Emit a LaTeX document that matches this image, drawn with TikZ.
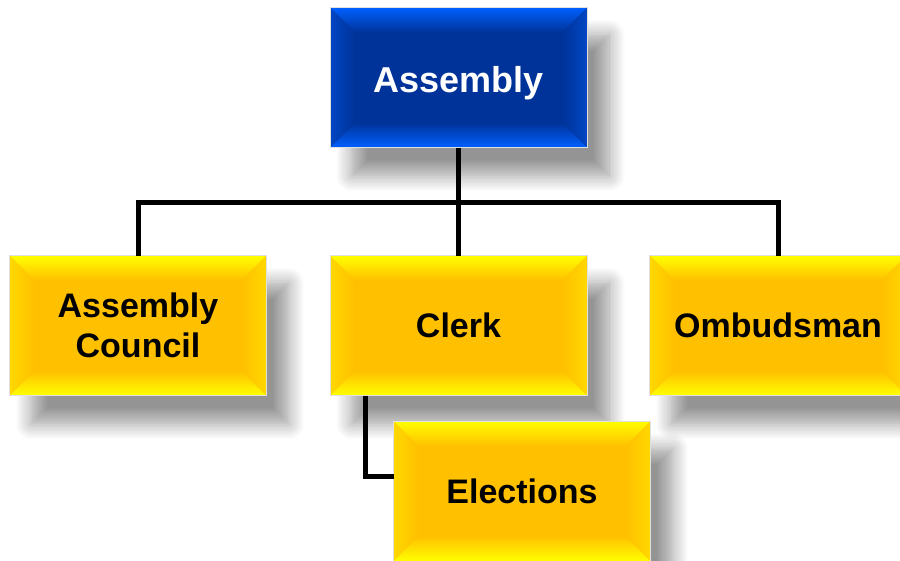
\documentclass[tikz,border=0pt]{standalone}
\usepackage{fontspec}
\setmainfont{Liberation Sans}
\usetikzlibrary{shadows.blur}
\definecolor{yface}{HTML}{FFC000}
\definecolor{ytop}{HTML}{FFFF00}
\definecolor{yside}{HTML}{FFD800}
\definecolor{bface}{HTML}{003399}
\definecolor{btop}{HTML}{0060FF}
\definecolor{bside}{HTML}{0046C4}
\tikzset{
  bevelbox/.style n args={4}{
    rectangle, minimum width=257pt, minimum height=140pt, inner sep=0pt, outer sep=0pt,
    align=center, fill=#1, text=#4, font=\bfseries\fontsize{34}{40}\selectfont,
    draw=black!12, line width=0.6pt,
    blur shadow={shadow xshift=22pt, shadow yshift=-28pt, shadow blur radius=16pt, shadow blur steps=12, shadow opacity=42},
    path picture={
      \coordinate (pnw) at (path picture bounding box.north west);
      \coordinate (pne) at (path picture bounding box.north east);
      \coordinate (psw) at (path picture bounding box.south west);
      \coordinate (pse) at (path picture bounding box.south east);
      \shade[top color=#2, bottom color=#1] (pnw) -- (pne) -- ([shift={(-25pt,-25pt)}]pne) -- ([shift={(25pt,-25pt)}]pnw) -- cycle;
      \shade[top color=#1, bottom color=#2] (psw) -- (pse) -- ([shift={(-25pt,25pt)}]pse) -- ([shift={(25pt,25pt)}]psw) -- cycle;
      \shade[left color=#3, right color=#1] (pnw) -- (psw) -- ([shift={(25pt,25pt)}]psw) -- ([shift={(25pt,-25pt)}]pnw) -- cycle;
      \shade[left color=#1, right color=#3] (pne) -- (pse) -- ([shift={(-25pt,25pt)}]pse) -- ([shift={(-25pt,-25pt)}]pne) -- cycle;
    }
  },
  ybox/.style={bevelbox={yface}{ytop}{yside}{black}},
  bbox/.style={bevelbox={bface}{btop}{bside}{white}, font=\bfseries\fontsize{36}{42}\selectfont, text height=29pt, text depth=0pt},
  conn/.style={draw=black, line width=5pt}
}
\begin{document}
\begin{tikzpicture}[x=1pt,y=-1pt]
\useasboundingbox (0,0) rectangle (900,560);
\node[bbox] (assembly) at (458.5,77.5) {Assembly};
\node[ybox] (council) at (138,325.5) {Assembly\\Council};
\node[ybox] (clerk) at (458.5,325.5) {Clerk};
\node[ybox] (ombud) at (778,325.5) {Ombudsman};
\node[ybox] (elections) at (522,491) {Elections};
\coordinate (bus) at (458.5,202);
\draw[conn] (assembly.south) -- (bus);
\draw[conn] (council.north) |- (bus) -| (ombud.north);
\draw[conn] (bus) -- (clerk.north);
\draw[conn] ([xshift=35pt]clerk.south west) |- ([yshift=15pt]elections.west);
\end{tikzpicture}
\end{document}
